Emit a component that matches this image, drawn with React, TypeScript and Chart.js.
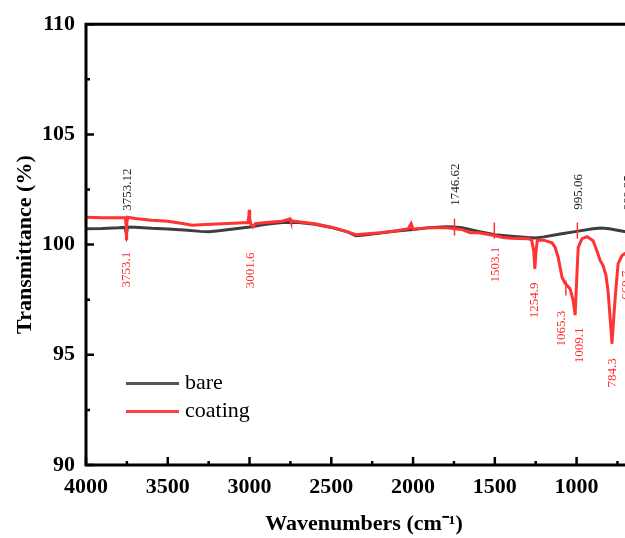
import React, { useEffect, useRef } from 'react';
import { Chart, registerables } from 'chart.js';

Chart.register(...registerables);

// ---- data (wavenumber cm-1, transmittance %) ----
const seriesNames = ['bare', 'coating'];

const bareSpectrum: [number, number][] = [
  [4000, 100.72], [3900, 100.73], [3800, 100.76], [3760, 100.78], [3753, 100.48], [3746, 100.8],
  [3700, 100.79], [3600, 100.74], [3500, 100.71], [3400, 100.66], [3300, 100.6], [3250, 100.58],
  [3200, 100.62], [3100, 100.71], [3000, 100.8], [2900, 100.92], [2800, 101.0], [2700, 101.0],
  [2600, 100.92], [2500, 100.78], [2400, 100.58], [2350, 100.4], [2300, 100.43], [2200, 100.53],
  [2100, 100.62], [2000, 100.68], [1900, 100.77], [1800, 100.81], [1750, 100.8], [1700, 100.76],
  [1600, 100.6], [1500, 100.45], [1400, 100.38], [1300, 100.32], [1250, 100.3], [1200, 100.35],
  [1100, 100.48], [1000, 100.6], [900, 100.72], [850, 100.75], [800, 100.72], [750, 100.65],
  [700, 100.58], [650, 100.55], [600, 100.55],
];

const coatingSpectrum: [number, number][] = [
  [4000, 101.24], [3900, 101.22], [3800, 101.22], [3760, 101.22], [3755, 100.9], [3753, 100.2],
  [3750, 100.9], [3745, 101.24], [3700, 101.18], [3600, 101.1], [3500, 101.06], [3400, 100.95],
  [3350, 100.88], [3300, 100.9], [3200, 100.93], [3100, 100.97], [3010, 101.0], [3004, 101.3],
  [3001.6, 101.58], [2999, 101.2], [2993, 100.95], [2980, 100.8], [2965, 100.95], [2900, 101.0],
  [2800, 101.06], [2752, 101.17], [2748, 101.08], [2700, 101.04], [2600, 100.95], [2500, 100.79],
  [2400, 100.58], [2350, 100.45], [2300, 100.48], [2200, 100.54], [2100, 100.63], [2030, 100.72],
  [2012, 100.95], [2000, 100.7], [1900, 100.77], [1800, 100.77], [1746, 100.72], [1700, 100.68],
  [1650, 100.54], [1600, 100.54], [1503, 100.41], [1450, 100.32], [1400, 100.29], [1300, 100.27],
  [1275, 100.22], [1262, 99.7], [1255, 98.9], [1248, 99.7], [1240, 100.2], [1200, 100.2],
  [1150, 100.08], [1131, 99.87], [1113, 99.43], [1089, 98.52], [1070, 98.24], [1040, 98.0],
  [1021, 97.47], [1009, 96.8], [997, 98.8], [990, 99.87], [967, 100.27], [936, 100.36],
  [899, 100.18], [875, 99.7], [856, 99.28], [838, 99.05], [820, 98.6], [807, 97.83],
  [789, 96.1], [784, 95.5], [771, 96.88], [759, 98.05], [746, 99.14], [722, 99.5],
  [703, 99.6], [690, 99.5], [670, 99.0], [650, 99.5], [600, 99.7],
];

const xTickLabels = [4000, 3500, 3000, 2500, 2000, 1500, 1000];
const yTickLabels = [90, 95, 100, 105, 110];

// peak labels: text, wavenumber, anchor transmittance
const barePeakLabels = ['3753.12', '1746.62', '995.06', '669.25'];
const barePeakWn = [3753.12, 1746.62, 995.06, 669.25];
const barePeakAnchor = [101.54, 101.76, 101.58, 101.54];

const coatPeakLabels = ['3753.1', '3001.6', '1503.1', '1254.9', '1065.3', '1009.1', '784.3', '669.7'];
const coatPeakWn = [3753.1, 3001.6, 1503.1, 1254.9, 1065.3, 1009.1, 784.3, 669.7];
const coatPeakAnchor = [99.68, 99.64, 99.9, 98.28, 97.0, 96.24, 94.84, 98.82];

// short marker strokes (wavenumber, from, to)
const markerWn = [1746.62, 1503.1, 995.06, 1065.3];
const markerFrom = [101.18, 101.0, 101.0, 98.37];
const markerTo = [100.41, 100.27, 100.27, 97.69];

// ---- styles ----
const SERIF = '"Liberation Serif", "Times New Roman", serif';
const BARE_COLOR = '#3e3e3e';
const COAT_COLOR = '#ff3333';
const LABEL_DX_BARE = [1.5, 1, 1, -2];
const LABEL_DX_COAT = [0, 1, 1.5, 0, -4.5, 4.5, 0.5, -4];

const decorPlugin = {
  id: 'decor',
  afterDatasetsDraw(chart: any) {
    const { ctx, chartArea: a, scales } = chart;
    const xs = scales.x;
    const ys = scales.y;
    ctx.save();

    // frame
    ctx.strokeStyle = '#000';
    ctx.lineWidth = 3;
    ctx.lineCap = 'square';
    ctx.beginPath();
    ctx.moveTo(a.left, a.top); ctx.lineTo(a.right, a.top);
    ctx.moveTo(a.left, a.top); ctx.lineTo(a.left, a.bottom);
    ctx.moveTo(a.left, a.bottom); ctx.lineTo(a.right, a.bottom);
    ctx.moveTo(a.right, a.top); ctx.lineTo(a.right, a.bottom);
    ctx.stroke();

    // ticks (inside)
    ctx.lineWidth = 2.5;
    ctx.lineCap = 'butt';
    ctx.beginPath();
    xTickLabels.forEach((v) => {
      const px = xs.getPixelForValue(v);
      ctx.moveTo(px, a.bottom); ctx.lineTo(px, a.bottom - 8);
      const m = v - 250;
      if (m >= xs.min) {
        const pm = xs.getPixelForValue(m);
        ctx.moveTo(pm, a.bottom); ctx.lineTo(pm, a.bottom - 4);
      }
    });
    yTickLabels.forEach((v, i) => {
      const py = ys.getPixelForValue(v);
      ctx.moveTo(a.left, py); ctx.lineTo(a.left + 8, py);
      if (i < yTickLabels.length - 1) {
        const pm = ys.getPixelForValue(v + 2.5);
        ctx.moveTo(a.left, pm); ctx.lineTo(a.left + 4, pm);
      }
    });
    ctx.stroke();

    // marker strokes
    ctx.strokeStyle = COAT_COLOR;
    ctx.lineWidth = 1.5;
    ctx.beginPath();
    markerWn.forEach((w, i) => {
      const px = xs.getPixelForValue(w);
      ctx.moveTo(px, ys.getPixelForValue(markerFrom[i]));
      ctx.lineTo(px, ys.getPixelForValue(markerTo[i]));
    });
    ctx.stroke();

    // peak labels
    ctx.font = `13px ${SERIF}`;
    ctx.textBaseline = 'middle';
    barePeakLabels.forEach((t, i) => {
      ctx.save();
      ctx.translate(xs.getPixelForValue(barePeakWn[i]) + LABEL_DX_BARE[i], ys.getPixelForValue(barePeakAnchor[i]));
      ctx.rotate(-Math.PI / 2);
      ctx.fillStyle = '#222';
      ctx.textAlign = 'left';
      ctx.fillText(t, 0, 0);
      ctx.restore();
    });
    coatPeakLabels.forEach((t, i) => {
      ctx.save();
      ctx.translate(xs.getPixelForValue(coatPeakWn[i]) + LABEL_DX_COAT[i], ys.getPixelForValue(coatPeakAnchor[i]));
      ctx.rotate(-Math.PI / 2);
      ctx.fillStyle = '#ff2a2a';
      ctx.textAlign = 'right';
      ctx.fillText(t, 0, 0);
      ctx.restore();
    });

    // legend
    const colors = ['#555555', '#ff4040'];
    const lx0 = a.left + 40;
    const lx1 = a.left + 93;
    const ly0 = ys.getPixelForValue(93.7);
    const gap = 28;
    ctx.lineWidth = 3;
    ctx.font = `22px ${SERIF}`;
    ctx.textAlign = 'left';
    ctx.textBaseline = 'middle';
    seriesNames.forEach((n, i) => {
      const yy = ly0 + i * gap;
      ctx.strokeStyle = colors[i];
      ctx.beginPath();
      ctx.moveTo(lx0, yy); ctx.lineTo(lx1, yy);
      ctx.stroke();
      ctx.fillStyle = '#000';
      ctx.fillText(n, lx1 + 6, yy);
    });

    ctx.restore();
  },
};

export default function App() {
  const ref = useRef<HTMLCanvasElement | null>(null);

  useEffect(() => {
    if (!ref.current) return;
    const tickFont = { family: SERIF, size: 22, weight: 'bold' as const };
    const chart = new Chart(ref.current, {
      type: 'line',
      data: {
        datasets: [
          {
            label: seriesNames[0],
            data: bareSpectrum.map(([x, y]) => ({ x, y })),
            borderColor: BARE_COLOR,
            borderWidth: 3,
            pointRadius: 0,
            tension: 0,
            order: 2,
          },
          {
            label: seriesNames[1],
            data: coatingSpectrum.map(([x, y]) => ({ x, y })),
            borderColor: COAT_COLOR,
            borderWidth: 3,
            pointRadius: 0,
            tension: 0,
            order: 1,
          },
        ],
      },
      options: {
        responsive: false,
        animation: false,
        devicePixelRatio: 1,
        layout: { padding: { top: 23, right: 18, left: 0, bottom: 0 } },
        plugins: { legend: { display: false }, tooltip: { enabled: false } },
        scales: {
          x: {
            type: 'linear',
            reverse: true,
            min: 600,
            max: 4000,
            grid: { display: false, drawTicks: false },
            border: { display: false },
            afterBuildTicks: (s: any) => { s.ticks = xTickLabels.map((v) => ({ value: v })); },
            afterFit: (s: any) => { s.height = 73; },
            ticks: {
              color: '#000', font: tickFont, padding: 9, maxRotation: 0, autoSkip: false,
              callback: (v: any) => String(v),
            },
            title: {
              display: true,
              text: 'Wavenumbers (cm\u207B\u00B9)',
              color: '#000',
              font: tickFont,
              padding: { top: 0, bottom: 0 },
            },
          },
          y: {
            type: 'linear',
            min: 90,
            max: 110,
            grid: { display: false, drawTicks: false },
            border: { display: false },
            afterBuildTicks: (s: any) => { s.ticks = yTickLabels.map((v) => ({ value: v })); },
            afterFit: (s: any) => { s.width = 86; },
            ticks: { color: '#000', font: tickFont, padding: 11, autoSkip: false, callback: (v: any) => String(v) },
            title: {
              display: true,
              text: 'Transmittance (%)',
              color: '#000',
              font: tickFont,
              padding: { top: 12, bottom: 0 },
            },
          },
        },
      },
      plugins: [decorPlugin],
    });
    return () => chart.destroy();
  }, []);

  return (
    <div style={{ position: 'fixed', left: 0, top: 0, width: 625, height: 538, overflow: 'hidden', background: '#fff' }}>
      <canvas ref={ref} width={660} height={538} style={{ width: 660, height: 538, display: 'block' }} />
    </div>
  );
}
